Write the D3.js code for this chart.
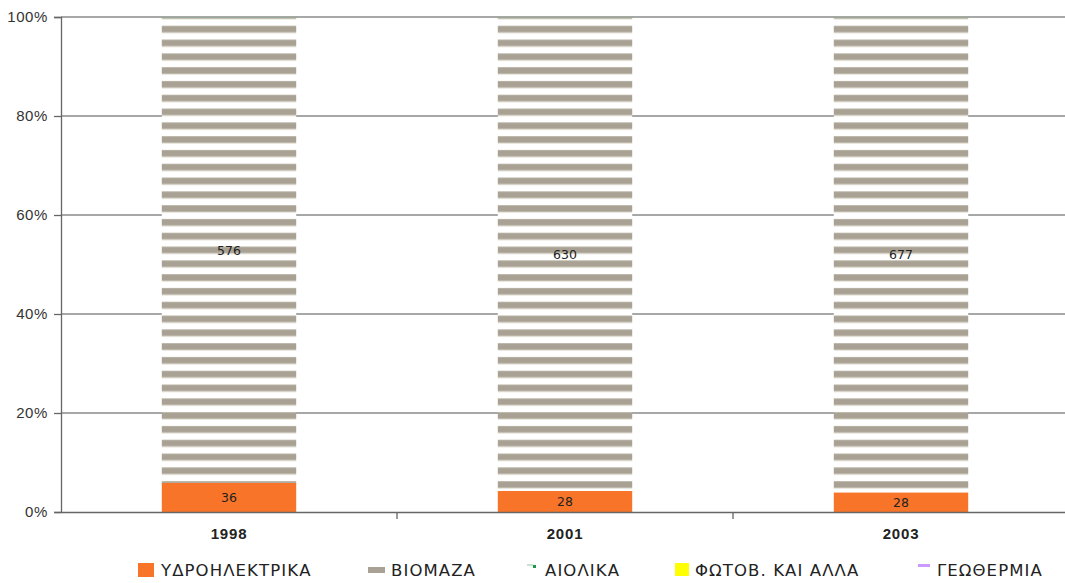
<!DOCTYPE html>
<html>
<head>
<meta charset="utf-8">
<script src="https://cdn.jsdelivr.net/npm/d3@7"></script>
<style>
  body { margin: 0; background: #fff; }
  svg { display: block; font-family: "DejaVu Sans", Verdana, sans-serif; }
</style>
</head>
<body>
<svg id="chart" width="1065" height="583"></svg>
<script>
// data
var years = ['1998', '2001', '2003'];
var hydro = [36, 28, 28];
var biomass = [576, 630, 677];
var wind = [0.4, 0.4, 0.4];
var pv = [0.1, 0.1, 0.1];
var geo = [0.2, 0.2, 0.2];
var yTicks = [0, 0.2, 0.4, 0.6, 0.8, 1];

var seriesNames = ['ΥΔΡΟΗΛΕΚΤΡΙΚΑ', 'ΒΙΟΜΑΖΑ', 'ΑΙΟΛΙΚΑ', 'ΦΩΤΟΒ. ΚΑΙ ΑΛΛΑ', 'ΓΕΩΘΕΡΜΙΑ'];
var seriesValues = [hydro, biomass, wind, pv, geo];
var colors = ['#f87428', 'url(#stripes)', '#2ca05a', '#ffff00', '#cc99ff'];

var rows = years.map(function(y, i) {
  var r = { year: y };
  seriesNames.forEach(function(n, k) { r[n] = seriesValues[k][i]; });
  return r;
});

var svg = d3.select('#chart');
var margin = { left: 61, right: -4, top: 17, bottom: 71 };
var width = 1065 - margin.left - margin.right;
var height = 583 - margin.top - margin.bottom;

// horizontal stripe pattern for the biomass bars (coords are inside the plot group)
var defs = svg.append('defs');
var pat = defs.append('pattern')
  .attr('id', 'stripes')
  .attr('patternUnits', 'userSpaceOnUse')
  .attr('x', 0).attr('y', 8.7)
  .attr('width', 20).attr('height', 13.8);
pat.append('rect').attr('width', 20).attr('height', 13.8).attr('fill', '#ffffff');
pat.append('rect').attr('y', -0.7).attr('width', 20).attr('height', 8.2).attr('fill', '#ddd8ce');
pat.append('rect').attr('y', 0.3).attr('width', 20).attr('height', 6.2).attr('fill', '#a9a294');

var g = svg.append('g').attr('transform', 'translate(' + margin.left + ',' + margin.top + ')');

var x = d3.scaleBand().domain(years).range([0, width]).paddingInner(0.6).paddingOuter(0.3);
var xOuter = d3.scaleBand().domain(years).range([0, width]);
var y = d3.scaleLinear().domain([0, 1]).range([height, 0]);

// grid lines
g.append('g')
  .selectAll('line')
  .data(yTicks.slice(1))
  .enter().append('line')
    .attr('x1', 0).attr('x2', width)
    .attr('y1', y).attr('y2', y)
    .attr('stroke', '#8a8a8a')
    .attr('stroke-width', 1.3);

var stack = d3.stack().keys(seriesNames).offset(d3.stackOffsetExpand);
var layers = stack(rows);

g.selectAll('g.layer')
  .data(layers)
  .enter().append('g')
    .attr('class', 'layer')
    .attr('fill', function(d, i) { return colors[i]; })
  .selectAll('rect')
  .data(function(d) { return d; })
  .enter().append('rect')
    .attr('x', function(d) { return x(d.data.year); })
    .attr('width', x.bandwidth())
    .attr('y', function(d) { return y(d[1]); })
    .attr('height', function(d) { return y(d[0]) - y(d[1]); });

// value labels on hydro and biomass
[0, 1].forEach(function(k) {
  g.append('g').selectAll('text')
    .data(layers[k])
    .enter().append('text')
      .attr('x', function(d) { return x(d.data.year) + x.bandwidth() / 2; })
      .attr('y', function(d) { return (y(d[0]) + y(d[1])) / 2; })
      .attr('dy', '0.35em')
      .attr('text-anchor', 'middle')
      .attr('font-size', 12.5)
      .attr('fill', '#222')
      .text(function(d, i) { return seriesValues[k][i]; });
});

// y axis
var yAxis = g.append('g')
  .call(d3.axisLeft(y).tickValues(yTicks).tickFormat(d3.format('.0%')).tickSize(7).tickPadding(6));
yAxis.select('.domain').attr('stroke', '#666').attr('stroke-width', 1.3);
yAxis.selectAll('.tick line').attr('stroke', '#666').attr('stroke-width', 1.3);
yAxis.selectAll('text').attr('font-size', 15).attr('letter-spacing', 0.6).attr('fill', '#333');

// x axis
var xAxis = g.append('g')
  .attr('transform', 'translate(0,' + height + ')')
  .call(d3.axisBottom(xOuter).tickSize(0).tickPadding(16));
xAxis.select('.domain').attr('stroke', '#666').attr('stroke-width', 1.5);
xAxis.selectAll('text').attr('font-size', 15).attr('font-weight', 'bold')
  .attr('letter-spacing', 0.8).attr('fill', '#222');
xAxis.append('g').selectAll('line')
  .data(years.slice(1))
  .enter().append('line')
    .attr('x1', function(d) { return xOuter(d); })
    .attr('x2', function(d) { return xOuter(d); })
    .attr('y1', 0).attr('y2', 7)
    .attr('stroke', '#666').attr('stroke-width', 1.3);

// legend
var legendX = [138, 368, 525, 675, 916];
var legend = svg.append('g').attr('transform', 'translate(0,570)');
var items = legend.selectAll('g')
  .data(seriesNames)
  .enter().append('g')
    .attr('transform', function(d, i) { return 'translate(' + legendX[i] + ',0)'; });

items.each(function(d, i) {
  var it = d3.select(this);
  var tx = 23;
  if (i === 0) {
    it.append('rect').attr('x', 0).attr('y', -7).attr('width', 16).attr('height', 14).attr('fill', '#f87428');
  } else if (i === 1) {
    it.append('rect').attr('x', 0).attr('y', -3).attr('width', 17).attr('height', 6).attr('fill', '#a9a294');
  } else if (i === 2) {
    it.append('line').attr('x1', 2).attr('x2', 8).attr('y1', -5).attr('y2', -5).attr('stroke', '#8cc8a0').attr('stroke-width', 1);
    it.append('rect').attr('x', 8).attr('y', -5).attr('width', 3).attr('height', 3).attr('fill', '#1a9a4a');
    tx = 20;
  } else if (i === 3) {
    it.append('rect').attr('x', 0).attr('y', -7).attr('width', 14).attr('height', 13).attr('fill', '#ffff00');
    tx = 20;
  } else {
    it.append('rect').attr('x', 2).attr('y', -6).attr('width', 12).attr('height', 3).attr('fill', '#cc99ff');
    tx = 21;
  }
  it.append('text')
    .attr('x', tx)
    .attr('dy', '0.38em')
    .attr('font-size', 16.5)
    .attr('letter-spacing', 1.1)
    .attr('fill', '#222')
    .text(d);
});
</script>
</body>
</html>
